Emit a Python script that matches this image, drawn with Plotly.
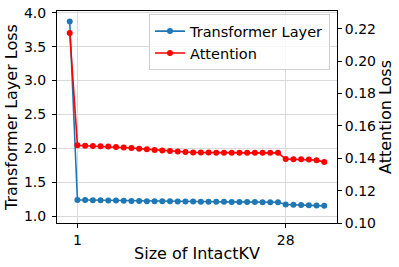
import plotly.graph_objects as go

x_vals = list(range(0, 34))
layer_loss = [3.87, 1.240, 1.238, 1.236, 1.234, 1.232, 1.230, 1.228, 1.226, 1.224,
              1.222, 1.221, 1.220, 1.219, 1.218, 1.217, 1.216, 1.215, 1.214, 1.213,
              1.212, 1.211, 1.210, 1.209, 1.208, 1.207, 1.206, 1.205, 1.172, 1.168,
              1.165, 1.162, 1.158, 1.153]
attn_loss = [0.2173, 0.1480, 0.1477, 0.1475, 0.1474, 0.1472, 0.1469, 0.1466, 0.1463, 0.1459,
             0.1455, 0.1451, 0.1447, 0.1444, 0.1441, 0.1438, 0.1436, 0.1435, 0.1435, 0.1434,
             0.1434, 0.1434, 0.1433, 0.1433, 0.1433, 0.1433, 0.1433, 0.1433, 0.1395, 0.1394,
             0.1393, 0.1392, 0.1388, 0.1376]
x_ticks = [1, 28]
x_ticklabels = ["1", "28"]

FONT = "DejaVu Sans"

fig = go.Figure()
fig.add_trace(go.Scatter(x=x_vals, y=layer_loss, mode="lines+markers",
                         name="Transformer Layer",
                         line=dict(color="#1f77b4", width=1.6),
                         marker=dict(color="#1f77b4", size=6)))
fig.add_trace(go.Scatter(x=x_vals, y=attn_loss, mode="lines+markers",
                         name="Attention", yaxis="y2",
                         line=dict(color="red", width=1.6),
                         marker=dict(color="red", size=6)))

fig.update_layout(
    template="none",
    width=399, height=267,
    margin=dict(l=57, r=62, t=11, b=44),
    paper_bgcolor="white", plot_bgcolor="white",
    font=dict(family=FONT, size=14, color="black"),
    showlegend=True,
    legend=dict(x=0.975, y=0.985, xanchor="right", yanchor="top",
                bgcolor="rgba(255,255,255,0.8)", bordercolor="#d0d0d0", borderwidth=1,
                font=dict(family=FONT, size=14.5), tracegroupgap=0,
                itemwidth=30),
    xaxis=dict(range=[-1.65, 34.65], tickvals=x_ticks, ticktext=x_ticklabels,
               automargin=False,
               showgrid=True, gridcolor="#d9d9d9", gridwidth=1,
               showline=True, linecolor="black", linewidth=1, mirror=True,
               ticks="outside", ticklen=4, tickcolor="black", zeroline=False,
               title=dict(text="Size of IntactKV", font=dict(size=16), standoff=1),
               tickfont=dict(size=14)),
    yaxis=dict(range=[0.9, 4.025], tickvals=[1.0, 1.5, 2.0, 2.5, 3.0, 3.5, 4.0],
               tickformat=".1f", automargin=False, ticklabelstandoff=3,
               showgrid=True, gridcolor="#d9d9d9", gridwidth=1,
               showline=True, linecolor="black", linewidth=1,
               ticks="outside", ticklen=4, tickcolor="black", zeroline=False,
               title=dict(text="Transformer Layer Loss", font=dict(size=16), standoff=2),
               tickfont=dict(size=14)),
    yaxis2=dict(range=[0.1, 0.2309], tickvals=[0.10, 0.12, 0.14, 0.16, 0.18, 0.20, 0.22],
                tickformat=".2f", overlaying="y", side="right", automargin=False,
                showgrid=False, showline=True, linecolor="black", linewidth=1,
                ticks="outside", ticklen=4, tickcolor="black", zeroline=False,
                title=dict(text="Attention Loss", font=dict(size=16), standoff=2),
                tickfont=dict(size=14)),
)

fig.write_html("out.html", config={"displayModeBar": False},
               post_script="document.body.style.margin='0';document.body.style.overflow='hidden';")
